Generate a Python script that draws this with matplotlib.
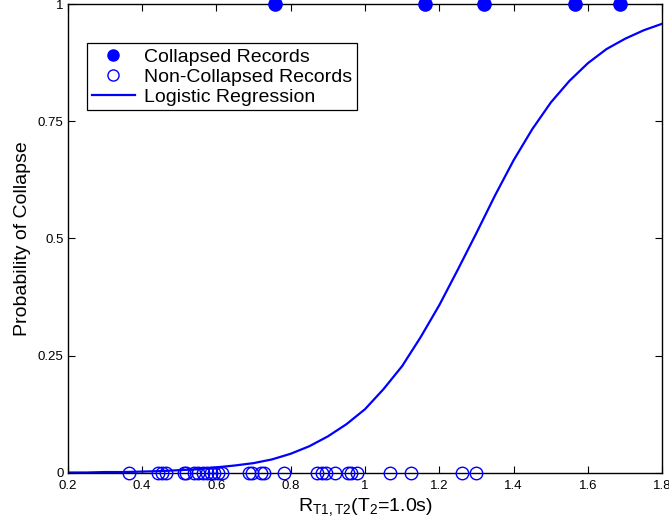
import matplotlib
matplotlib.use("Agg")
import matplotlib.pyplot as plt

plt.rcParams['font.family'] = ['Liberation Sans', 'DejaVu Sans']
plt.rcParams['mathtext.fontset'] = 'custom'
plt.rcParams['mathtext.rm'] = 'Liberation Sans'
plt.rcParams['mathtext.it'] = 'Liberation Sans'

# collapsed records (probability = 1)
collapsed_x = [0.758, 1.161, 1.321, 1.564, 1.687]
collapsed_y = [1, 1, 1, 1, 1]

# non-collapsed records (probability = 0)
noncollapsed_x = [0.364, 0.443, 0.454, 0.465, 0.513, 0.517, 0.540, 0.551,
                  0.563, 0.574, 0.586, 0.594, 0.605, 0.616, 0.688, 0.695,
                  0.720, 0.728, 0.783, 0.872, 0.884, 0.895, 0.919, 0.954,
                  0.961, 0.979, 1.066, 1.125, 1.260, 1.300]
noncollapsed_y = [0] * len(noncollapsed_x)

# fitted logistic regression curve
fit_x = [0.2, 0.25, 0.3, 0.35, 0.4, 0.45, 0.5, 0.55, 0.6, 0.65, 0.7, 0.75,
         0.8, 0.85, 0.9, 0.95, 1.0, 1.05, 1.1, 1.15, 1.2, 1.25, 1.3, 1.35,
         1.4, 1.45, 1.5, 1.55, 1.6, 1.65, 1.7, 1.75, 1.8]
fit_y = [0.001, 0.001, 0.002, 0.002, 0.003, 0.004, 0.006, 0.008, 0.012,
         0.016, 0.021, 0.029, 0.041, 0.057, 0.078, 0.104, 0.136, 0.179,
         0.228, 0.290, 0.358, 0.434, 0.512, 0.592, 0.667, 0.733, 0.790,
         0.836, 0.874, 0.904, 0.926, 0.944, 0.958]

fig = plt.figure(figsize=(6.69, 5.27), dpi=100)
ax = fig.add_axes([0.1012, 0.1025, 0.8888, 0.8899])

ax.plot(collapsed_x, collapsed_y, 'o', color='blue', markersize=9.5,
        clip_on=False, zorder=3, label='Collapsed Records')
ax.plot(noncollapsed_x, noncollapsed_y, 'o', markerfacecolor='none',
        markeredgecolor='blue', markersize=9, markeredgewidth=1,
        clip_on=False, zorder=3, label='Non-Collapsed Records')
ax.plot(fit_x, fit_y, '-', color='blue', linewidth=1.6,
        label='Logistic Regression')

ax.set_xlim(0.2, 1.8)
ax.set_ylim(0, 1)
ax.set_xticks([0.2, 0.4, 0.6, 0.8, 1.0, 1.2, 1.4, 1.6, 1.8])
ax.set_xticklabels(['0.2', '0.4', '0.6', '0.8', '1', '1.2', '1.4', '1.6', '1.8'])
ax.set_yticks([0, 0.25, 0.5, 0.75, 1])
ax.set_yticklabels(['0', '0.25', '0.5', '0.75', '1'])
ax.tick_params(direction='in', length=5, width=0.8, labelsize=9.5,
               top=True, right=True)
ax.tick_params(axis='x', pad=5)
ax.tick_params(axis='y', pad=3)
for s in ax.spines.values():
    s.set_linewidth(1.0)

ax.set_xlabel(r'R$_{\mathrm{T1,T2}}$(T$_2$=1.0s)', fontsize=14, labelpad=3)
ax.set_ylabel('Probability of Collapse', fontsize=14, labelpad=5)

leg = ax.legend(loc='upper left', bbox_to_anchor=(0.130, 0.918),
                bbox_transform=fig.transFigure, borderaxespad=0,
                fancybox=False, framealpha=1, edgecolor='black',
                fontsize=14, handlelength=2.2, labelspacing=0.12,
                borderpad=0.25, handletextpad=0.5, numpoints=1)
leg.get_frame().set_linewidth(0.9)
for h in leg.legend_handles[:2]:
    h.set_markersize(8)

fig.savefig('out.png', dpi=100)
